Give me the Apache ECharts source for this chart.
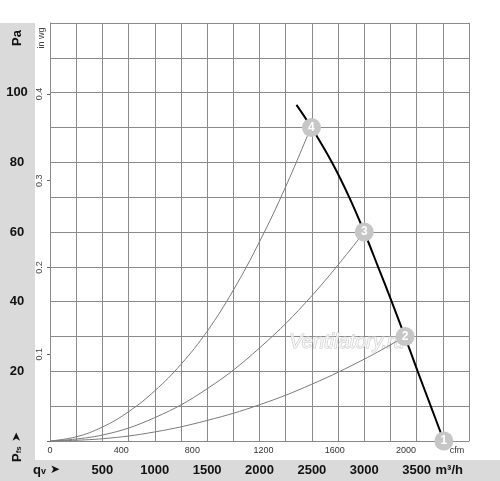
<!DOCTYPE html>
<html>
<head>
<meta charset="utf-8">
<script src="https://cdn.jsdelivr.net/npm/echarts@6/dist/echarts.min.js"></script>
<style>html,body{margin:0;padding:0;background:#fff}#c{width:500px;height:481px}</style>
</head>
<body>
<div id="c"></div>
<script>
// Fan curve (flow m³/h, pressure Pa)
var fanQ = [2353, 2496, 2691, 2856, 3000, 3132, 3262, 3388, 3510, 3635, 3760];
var fanP = [96.5, 90, 80, 70, 60, 50, 40, 30, 20, 10, 0];
// System curves
var sys4Q = [0, 250, 500, 750, 1000, 1250, 1500, 1750, 2000, 2250, 2490];
var sys4P = [0, 1.2, 4.0, 8.4, 14.4, 22.0, 31.5, 43.3, 57.2, 73.0, 90];
var sys3Q = [0, 500, 1000, 1500, 2000, 2500, 3000];
var sys3P = [0, 1.7, 6.7, 15, 26.7, 41.7, 60];
var sys2Q = [0, 500, 1000, 1500, 2000, 2500, 3000, 3390];
var sys2P = [0, 0.65, 2.6, 5.9, 10.4, 16.3, 23.5, 30];
// Operating point markers
var markLabels = ['1', '2', '3', '4'];
var markQ = [3760, 3390, 3000, 2496];
var markP = [0, 30, 60, 90];
// Axis ticks
var paTicks = [20, 40, 60, 80, 100];
var m3hTicks = [500, 1000, 1500, 2000, 2500, 3000, 3500];
var cfmTicks = [0, 400, 800, 1200, 1600, 2000];
var inwgTicks = [0.1, 0.2, 0.3, 0.4];

function zip(a, b) { return a.map(function (v, i) { return [v, b[i]]; }); }

var chart = echarts.init(document.getElementById('c'));
var gridCol = '#8a8a8a';
chart.setOption({
  animation: false,
  grid: { left: 50, top: 23, right: 31, bottom: 40 },
  graphic: [
    { type: 'rect', z: -10, shape: { x: 0, y: 23, width: 35, height: 458 }, style: { fill: '#dadada' } },
    { type: 'rect', z: -10, shape: { x: 0, y: 460, width: 500, height: 21 }, style: { fill: '#dadada' } },
    { type: 'text', x: 17, y: 38, rotation: Math.PI / 2, style: { text: 'Pa', font: 'bold 13px Liberation Sans', fill: '#111', align: 'center', verticalAlign: 'middle' } },
    { type: 'text', x: 42, y: 38, rotation: Math.PI / 2, style: { text: 'in wg', font: '9px Liberation Sans', fill: '#444', align: 'center', verticalAlign: 'middle' } },
    { type: 'text', x: 17, y: 447, rotation: Math.PI / 2, style: {
        text: '{p|P}{s|fs}{a| ➤}', align: 'center', verticalAlign: 'middle',
        rich: { p: { font: 'bold 13px Liberation Sans', fill: '#111' }, s: { font: 'bold 8px Liberation Sans', fill: '#111', padding: [4, 0, 0, 0] }, a: { font: 'bold 12px DejaVu Sans', fill: '#111' } } } },
    { type: 'text', x: 33, y: 470, style: {
        text: '{p|q}{s|v}{a| ➤}', verticalAlign: 'middle',
        rich: { p: { font: 'bold 13px Liberation Sans', fill: '#111' }, s: { font: 'bold 9px Liberation Sans', fill: '#111', padding: [3, 0, 0, 0] }, a: { font: 'bold 12px DejaVu Sans', fill: '#111' } } } },
    { type: 'text', x: 463, y: 470, style: { text: 'm³/h', font: 'bold 13px Liberation Sans', fill: '#111', align: 'right', verticalAlign: 'middle' } },
    { type: 'text', x: 457, y: 451, style: { text: 'cfm', font: '9px Liberation Sans', fill: '#333', align: 'center', verticalAlign: 'middle' } },
    { type: 'text', x: 347, y: 342, z: 1, style: { text: 'Ventilatory.ru', font: 'italic 20px Liberation Sans', fill: 'rgba(252,252,252,0.75)', stroke: '#c8c8c8', lineWidth: 1, align: 'center', verticalAlign: 'middle' } }
  ],
  xAxis: [
    { type: 'value', min: 0, max: 4000, interval: 250, position: 'bottom',
      axisLine: { show: true, onZero: false, lineStyle: { color: gridCol } }, axisTick: { show: false },
      splitLine: { show: true, lineStyle: { color: gridCol, width: 1 } },
      axisLabel: { show: false } },
    { type: 'value', min: 0, max: 4000, interval: 500, position: 'bottom', offset: 0,
      axisLine: { show: false }, axisTick: { show: false }, splitLine: { show: false },
      axisLabel: { margin: 23, fontSize: 13, fontWeight: 'bold', color: '#111', fontFamily: 'Liberation Sans',
        formatter: function (v) { return m3hTicks.indexOf(v) >= 0 ? String(v) : ''; } } },
    { type: 'value', min: 0, max: 4000 / 1.699, interval: 400, position: 'bottom',
      axisLine: { show: false }, axisTick: { show: false }, splitLine: { show: false },
      axisLabel: { margin: 5, fontSize: 9, color: '#333', fontFamily: 'Liberation Sans', showMaxLabel: false,
        formatter: function (v) { return cfmTicks.indexOf(v) >= 0 ? String(v) : ''; } } }
  ],
  yAxis: [
    { type: 'value', min: 0, max: 120, interval: 10, position: 'left',
      axisLine: { show: true, lineStyle: { color: gridCol } }, axisTick: { show: false },
      splitLine: { show: true, lineStyle: { color: gridCol, width: 1 } },
      axisLabel: { margin: 33, align: 'center', fontSize: 13, fontWeight: 'bold', color: '#111', fontFamily: 'Liberation Sans',
        formatter: function (v) { return paTicks.indexOf(v) >= 0 ? String(v) : ''; } } },
    { type: 'value', min: 0, max: 120 / 249.09, interval: 0.1, position: 'left',
      axisLine: { show: false }, splitLine: { show: false },
      axisTick: { show: true, length: 3, lineStyle: { color: '#666' } },
      axisLabel: { margin: 6, rotate: 90, fontSize: 9, color: '#444', fontFamily: 'Liberation Sans', showMaxLabel: false,
        formatter: function (v) { var r = Math.round(v * 10) / 10; return inwgTicks.indexOf(r) >= 0 && Math.abs(v - r) < 1e-6 ? String(r) : ''; } } }
  ],
  series: [
    { type: 'line', data: zip(sys4Q, sys4P), smooth: 0.4, symbol: 'none', lineStyle: { color: '#7a7a7a', width: 1 }, z: 3 },
    { type: 'line', data: zip(sys3Q, sys3P), smooth: 0.4, symbol: 'none', lineStyle: { color: '#7a7a7a', width: 1 }, z: 3 },
    { type: 'line', data: zip(sys2Q, sys2P), smooth: 0.4, symbol: 'none', lineStyle: { color: '#7a7a7a', width: 1 }, z: 3 },
    { type: 'line', data: zip(fanQ, fanP), smooth: 0.4, symbol: 'none', clip: false, lineStyle: { color: '#000', width: 2 }, z: 4 },
    { type: 'scatter', clip: false, z: 5, symbolSize: 19, silent: true,
      itemStyle: { color: '#c6c6c6', opacity: 1 },
      label: { show: true, position: 'inside', color: '#ffffff', fontWeight: 'bold', fontSize: 12, fontFamily: 'Liberation Sans',
        textBorderWidth: 0, formatter: function (p) { return p.value[2]; } },
      data: markQ.map(function (q, i) { return [q, markP[i], markLabels[i]]; }) }
  ]
});
</script>
</body>
</html>
